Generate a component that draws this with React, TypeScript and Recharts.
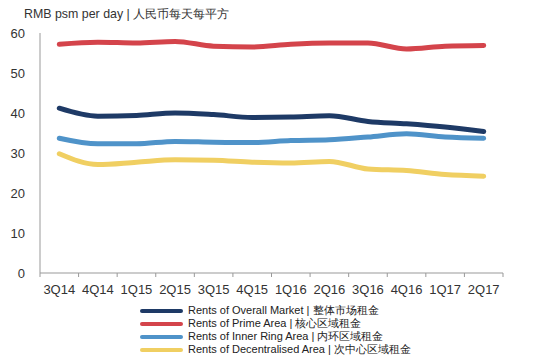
import { LineChart, Line, XAxis, YAxis, Legend } from 'recharts'

const quarters = ['3Q14', '4Q14', '1Q15', '2Q15', '3Q15', '4Q15', '1Q16', '2Q16', '3Q16', '4Q16', '1Q17', '2Q17']
const overall = [41.2, 39.2, 39.4, 40.0, 39.6, 38.9, 39.0, 39.3, 37.9, 37.3, 36.5, 35.4]
const prime = [57.2, 57.7, 57.5, 57.9, 56.7, 56.5, 57.2, 57.5, 57.5, 56.0, 56.7, 56.9]
const innerRing = [33.7, 32.3, 32.3, 32.9, 32.7, 32.6, 33.1, 33.3, 34.0, 34.8, 34.0, 33.7]
const decentralised = [29.8, 27.1, 27.7, 28.3, 28.2, 27.7, 27.5, 27.9, 26.0, 25.6, 24.6, 24.2]
const yTicks = [0, 10, 20, 30, 40, 50, 60]

const series = [
  { key: 'overall', name: 'Rents of Overall Market | 整体市场租金', color: '#1e3a66' },
  { key: 'prime', name: 'Rents of Prime Area | 核心区域租金', color: '#d4444b' },
  { key: 'inner', name: 'Rents of Inner Ring Area | 内环区域租金', color: '#4f93c9' },
  { key: 'decent', name: 'Rents of Decentralised Area | 次中心区域租金', color: '#f0cf62' },
]

const data = quarters.map((q, i) => ({
  x: i,
  q,
  overall: overall[i],
  prime: prime[i],
  inner: innerRing[i],
  decent: decentralised[i],
}))

const boundaryTicks = quarters.map((_, i) => i - 0.5).concat([quarters.length - 0.5])
const HALF_BAND = 463 / quarters.length / 2
const font = 'Liberation Sans, Arial, sans-serif'

function QuarterTick(props: any) {
  const { x, y, payload } = props
  const label = quarters[payload.value + 0.5]
  if (!label) return null
  return (
    <text x={x + HALF_BAND} y={y + 15} textAnchor="middle" fontSize={13} fill="#333" fontFamily={font}>
      {label}
    </text>
  )
}

function LegendBox() {
  return (
    <div style={{ fontFamily: font, fontSize: 11, color: '#222', lineHeight: '13px', textAlign: 'left' }}>
      {series.map((s) => (
        <div key={s.key} style={{ display: 'flex', alignItems: 'center' }}>
          <span style={{ display: 'inline-block', width: 43, height: 4, borderRadius: 2, background: s.color, marginRight: 5 }} />
          <span>{s.name}</span>
        </div>
      ))}
    </div>
  )
}

export default function App() {
  return (
    <div style={{ position: 'absolute', left: 0, top: 0, width: 537, height: 361, background: '#fff' }}>
      <div style={{ position: 'absolute', left: 24, top: 6, fontFamily: font, fontSize: 12.4, color: '#333' }}>
        RMB psm per day | 人民币每天每平方
      </div>
      <LineChart width={537} height={361} data={data} margin={{ top: 33, right: 34, left: 0, bottom: 14 }}>
        <XAxis
          dataKey="x"
          type="number"
          domain={[-0.5, quarters.length - 0.5]}
          ticks={boundaryTicks}
          interval={0}
          tick={<QuarterTick />}
          tickSize={4}
          height={22}
          stroke="#999"
          tickLine={{ stroke: '#999' }}
        />
        <YAxis
          domain={[0, 60]}
          ticks={yTicks}
          width={40}
          tickLine={false}
          tickSize={0}
          tickMargin={15}
          stroke="#999"
          tick={{ fontSize: 13, fill: '#333', fontFamily: font }}
        />
        <Legend
          verticalAlign="bottom"
          layout="vertical"
          content={<LegendBox />}
          wrapperStyle={{ top: 304, left: 140, width: 320 }}
        />
        {series.map((s) => (
          <Line
            key={s.key}
            dataKey={s.key}
            name={s.name}
            type="monotone"
            stroke={s.color}
            strokeWidth={5}
            strokeLinecap="round"
            dot={false}
            isAnimationActive={false}
          />
        ))}
      </LineChart>
    </div>
  )
}
